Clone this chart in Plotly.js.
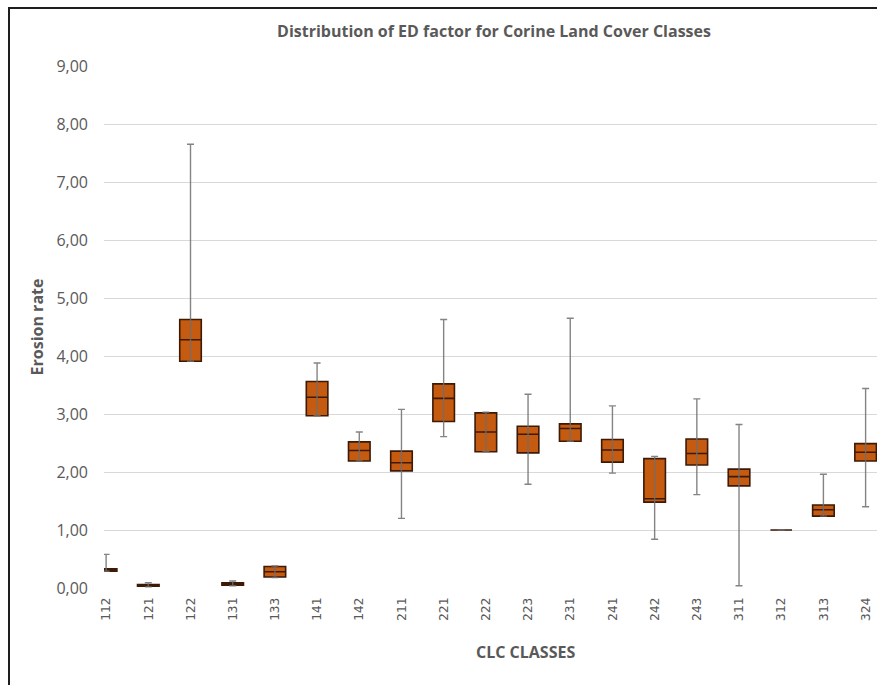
<!DOCTYPE html>
<html>
<head>
<meta charset="utf-8">
<script src="https://cdn.plot.ly/plotly-3.0.1.min.js"></script>
<style>
  html, body { margin: 0; padding: 0; background: #fff; }
  #wrap { position: relative; width: 877px; height: 685px; overflow: hidden; }
  #chart { position: absolute; left: 0; top: 0; width: 877px; height: 685px; }
  #frame { position: absolute; left: 8px; top: 7px; width: 960px; height: 760px;
           border: 2px solid #1e1e1e; pointer-events: none; }
</style>
</head>
<body>
<div id="wrap">
  <div id="chart"></div>
  <div id="frame"></div>
</div>
<script>
// CLC classes (categories)
const categories = ["112","121","122","131","133","141","142","211","221","222","223","231","241","242","243","311","312","313","324"];
// Box statistics
const lowerWhisker = [0.29, 0.02, 3.91, 0.04, 0.18, 2.97, 2.19, 1.20, 2.61, 2.35, 1.79, 2.53, 1.98, 0.84, 1.61, 0.04, 1.00, 1.24, 1.40];
const q1Values     = [0.29, 0.03, 3.91, 0.05, 0.19, 2.97, 2.19, 2.02, 2.87, 2.35, 2.33, 2.53, 2.17, 1.48, 2.12, 1.76, 1.00, 1.24, 2.19];
const medianValues = [0.31, 0.045,4.28, 0.07, 0.28, 3.29, 2.37, 2.16, 3.27, 2.69, 2.65, 2.75, 2.38, 1.54, 2.32, 1.92, 1.00, 1.35, 2.34];
const q3Values     = [0.33, 0.06, 4.63, 0.09, 0.37, 3.56, 2.52, 2.36, 3.52, 3.02, 2.79, 2.83, 2.56, 2.23, 2.57, 2.05, 1.00, 1.43, 2.49];
const upperWhisker = [0.58, 0.09, 7.65, 0.12, 0.38, 3.88, 2.69, 3.08, 4.63, 3.03, 3.34, 4.65, 3.14, 2.27, 3.26, 2.82, 1.00, 1.96, 3.44];
const yTickValues  = [0,1,2,3,4,5,6,7,8,9];

const grey = "#595959";

const boxTrace = {
  type: "box",
  x: categories,
  q1: q1Values,
  median: medianValues,
  q3: q3Values,
  lowerfence: q1Values,
  upperfence: q3Values,
  fillcolor: "#C55A11",
  line: { color: "#3d1a06", width: 1.6 },
  whiskerwidth: 0,
  boxpoints: false,
  hoverinfo: "skip",
  showlegend: false
};

const whiskerTrace = {
  type: "scatter",
  mode: "markers",
  x: categories,
  y: medianValues,
  marker: { size: 1, color: "rgba(0,0,0,0)" },
  error_y: {
    type: "data",
    symmetric: false,
    array: upperWhisker.map((u, i) => u - medianValues[i]),
    arrayminus: lowerWhisker.map((l, i) => medianValues[i] - l),
    color: "rgba(110,110,110,0.85)",
    thickness: 1.4,
    width: 3.5
  },
  hoverinfo: "skip",
  showlegend: false
};

const layout = {
  width: 877,
  height: 685,
  margin: { l: 104, r: 0, t: 66, b: 97 },
  paper_bgcolor: "rgba(0,0,0,0)",
  plot_bgcolor: "#ffffff",
  separators: ", ",
  font: { family: "Open Sans, sans-serif", color: grey },
  showlegend: false,
  boxgap: 0.27,
  title: {
    text: "<b>Distribution of ED factor for Corine Land Cover Classes</b>",
    font: { family: "Open Sans, sans-serif", size: 16, color: grey },
    xref: "container", x: 494 / 877, xanchor: "center",
    yref: "container", y: 1 - 31 / 685, yanchor: "middle"
  },
  xaxis: {
    type: "category",
    range: [-0.05, 18.27],
    showgrid: false,
    zeroline: false,
    showline: false,
    ticks: "",
    tickangle: -90,
    tickfont: { family: "DejaVu Sans Mono, monospace", size: 13, color: grey },
    ticklabelstandoff: 6
  },
  yaxis: {
    range: [0, 9],
    tickvals: yTickValues,
    tickformat: ".2f",
    showgrid: true,
    gridcolor: "#d9d9d9",
    gridwidth: 1,
    zeroline: false,
    showline: false,
    ticks: "",
    tickfont: { family: "Open Sans, sans-serif", size: 16, color: grey },
    ticklabelstandoff: 15,
    title: {
      text: "<b>Erosion rate</b>",
      font: { family: "Open Sans, sans-serif", size: 16, color: grey },
      standoff: 8
    }
  },
  annotations: [{
    text: "<b>CLC CLASSES</b>",
    xref: "paper", yref: "paper",
    x: (525 - 104) / 773, y: -(652 - 588) / 522,
    xanchor: "center", yanchor: "middle",
    showarrow: false,
    font: { family: "Open Sans, sans-serif", size: 16, color: grey }
  }]
};

Plotly.newPlot("chart", [boxTrace, whiskerTrace], layout, { staticPlot: true, displayModeBar: false });
</script>
</body>
</html>
